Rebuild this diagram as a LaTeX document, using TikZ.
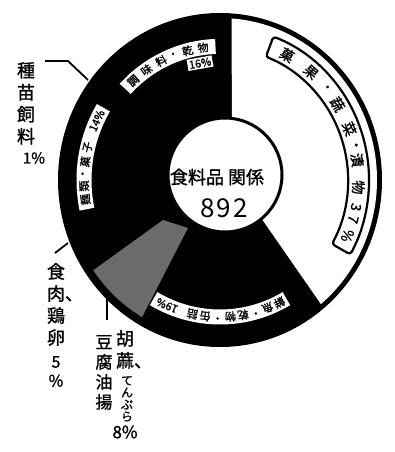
\documentclass[tikz,border=0pt]{standalone}
\usepackage{fontspec}
\newfontfamily\jp{Noto Sans CJK JP}
\newfontfamily\jpb[FakeBold=1.2]{Noto Sans CJK JP}
\begin{document}
\begin{tikzpicture}
    [x=1pt,y=1pt,
    ringtxt/.style={font=\jpb\fontsize{11}{11}\selectfont,inner sep=0pt},
    boxtxt/.style={font=\jpb\fontsize{14}{14}\selectfont,inner sep=0pt},
    strip/.style={white,line width=15pt},
    column/.style={font=\jpb\fontsize{18}{22}\selectfont,align=center,inner sep=0pt,anchor=north},
    pct/.style={font=\jpb\fontsize{15}{15}\selectfont,inner sep=0pt},
    lead/.style={line width=1.8pt}]
    \useasboundingbox (0,0) rectangle (394,452);
    \begin{scope}[shift={(220,272)}]
    \fill[even odd rule] (0,0) ellipse [x radius=162,y radius=167] (5,5) circle [radius=57];
    \fill[white] (85.8:157 and 162) arc [start angle=85.8,end angle=-50,x radius=157,y radius=162]
      -- ([shift={(5,5)}]-50:57) arc [start angle=-50,end angle=83,radius=57] -- cycle;
    \fill[black!58] (214.6:154 and 159) arc [start angle=214.6,end angle=239.6,x radius=154,y radius=159]
      -- (-32,-48) -- (-57,-40) -- cycle;
    \draw[line width=3pt] (5,5) circle [radius=57];
    \draw[line width=2.2pt,rounded corners=3pt] (69:149 and 153.6) arc [start angle=69,end angle=-29,x radius=149,y radius=153.6]
      -- (-29:128 and 132) arc [start angle=-29,end angle=69,x radius=128,y radius=132] -- cycle;
    \foreach \a/\c [count=\i] in {61/菓,49/果,40/・,32/蔬,21/菜,14/・,8/漬,-3/物,-11/3,-16/7,-23/\%}
      \node[boxtxt,rotate=\a-90] (fruit\i) at (\a:138.5 and 142.8) {\c};
    \draw[strip] (137:129.6 and 133.6) arc [start angle=137,end angle=92,x radius=129.6,y radius=133.6];
    \foreach \a/\c [count=\i] in {132/調,124.5/味,117/料,111/・,104.5/乾,97.5/物}
      \node[ringtxt,rotate=\a-90] (spice\i) at (\a:129.6 and 133.6) {\c};
    \node[ringtxt,fill=white,inner sep=1.5pt,rotate=10] (spicepct) at (100:115 and 118.6) {16\%};
    \draw[strip] (192:136 and 140.3) arc [start angle=192,end angle=149,x radius=136,y radius=140.3];
    \foreach \a/\c [count=\i] in {188/麺,182.5/類,177.5/・,172.5/菓,166.5/子,155/14\%}
      \node[ringtxt,rotate=\a-90] (bread\i) at (\a:136 and 140.3) {\c};
    \draw[strip] (300:132.8 and 137) arc [start angle=300,end angle=240,x radius=132.8,y radius=137];
    \foreach \a/\c [count=\i] in {296.5/鮮,291/魚,285.5/・,280/乾,274.5/物,269/・,263.5/缶,258/詰,246.5/19\%}
      \node[ringtxt,rotate=\a-90] (fish\i) at (\a:132.8 and 137) {\c};
    \end{scope}
    \node[font=\jpb\fontsize{18}{18}\selectfont] (title) at (217,275) {食料品 関係};
    \node[font=\jp\fontsize{26}{26}\selectfont] (total) at (224,244) {8\hspace{2pt}9\hspace{2pt}2};
    \node[column] (seed) at (26,390) {種\\苗\\飼\\料};
    \node[pct] (seedpct) at (34,294) {1\%};
    \node[column] (meat) at (56,189) {食\\肉\rlap{、}\\鶏\\卵};
    \node[column,font=\jpb\fontsize{16}{19}\selectfont] (meatpct) at (56,96) {5\\\%};
    \node[column,font=\jpb\fontsize{17}{20}\selectfont] (tofu) at (104,117) {豆\\腐\\油\\揚};
    \node[column] (sesame) at (125,122) {胡\\蔴\rlap{、}};
    \node[column,font=\jpb\fontsize{12}{12}\selectfont] (tempura) at (127,76) {て\\ん\\ぷ\\ら};
    \node[pct,font=\jpb\fontsize{17}{17}\selectfont] (sesamepct) at (125,20) {8\%};
    \coordinate (seedend) at (45,391);
    \coordinate (seedrim) at (88,372);
    \coordinate (meatend) at (55,199);
    \coordinate (meatrim) at (68,209);
    \coordinate (sesameend) at (107,132);
    \coordinate (sesamerim) at (107,155);
    \draw[lead] (seedend) -- ++(23,0) -- (seedrim);
    \draw[lead] (meatend) -- (meatrim);
    \draw[lead] (sesameend) -- (sesamerim);
\end{tikzpicture}
\end{document}
